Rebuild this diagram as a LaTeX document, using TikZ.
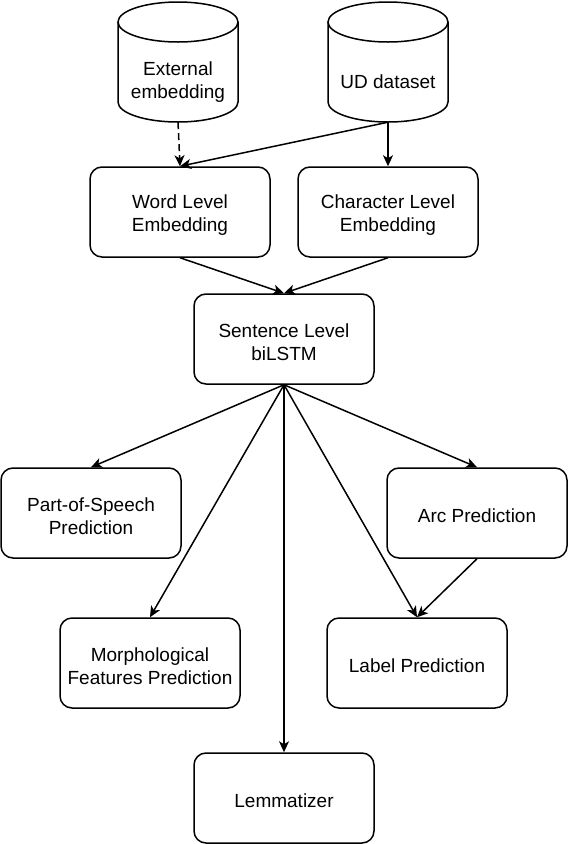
\documentclass[tikz,border=0pt]{standalone}
\usepackage{fontspec}
\setmainfont{Liberation Sans}
\usetikzlibrary{arrows.meta}
\newcommand\mytopstrut{\rule{0pt}{19.5pt}}
\begin{document}
\begin{tikzpicture}[x=1pt,y=1pt,
  txt/.style={align=center, font=\fontsize{19}{23}\selectfont, inner sep=0pt},
  box/.style={txt, draw, line width=1.5pt, rounded corners=12pt, minimum width=180pt, minimum height=90pt},
  dbtext/.style={txt, minimum width=120pt, minimum height=80pt},
  outline/.style={line width=1.5pt},
  conn/.style={line width=1.5pt, -{Stealth[length=11pt,width=10pt,inset=3pt]}},
]
\useasboundingbox (0,0) rectangle (570,-844);

% cylinders
\draw[outline] (118,-22) -- (118,-102) arc[start angle=180,end angle=360,x radius=60,y radius=20] -- (238,-22);
\draw[outline] (178,-22) ellipse[x radius=60,y radius=20];
\draw[outline] (328,-22) -- (328,-102) arc[start angle=180,end angle=360,x radius=60,y radius=20] -- (448,-22);
\draw[outline] (388,-22) ellipse[x radius=60,y radius=20];

\node[dbtext] (ext) at (178,-82) {External\\embedding};
\node[dbtext] (ud) at (388,-82) {UD dataset};

\node[box] (word) at (180,-212) {\mytopstrut Word Level\\Embedding};
\node[box] (char) at (388,-212) {\mytopstrut Character Level\\Embedding};
\node[box] (sent) at (284,-339) {\mytopstrut Sentence Level\\biLSTM};
\node[box] (pos) at (91,-513) {\mytopstrut Part-of-Speech\\Prediction};
\node[box] (arc) at (477,-513) {\mytopstrut Arc Prediction};
\node[box] (morph) at (150,-663) {\mytopstrut Morphological\\Features Prediction};
\node[box] (label) at (417,-663) {\mytopstrut Label Prediction};
\node[box] (lemma) at (284,-798) {\mytopstrut Lemmatizer};

\draw[conn, dash pattern=on 7pt off 4pt] (ext.south) -- (word.north);
\draw[conn] (ud.south) -- (word.north);
\draw[conn] (ud.south) -- (char.north);
\draw[conn] (word.south) -- (sent.north);
\draw[conn] (char.south) -- (sent.north);
\draw[conn] (sent.south) -- (pos.north);
\draw[conn] (sent.south) -- (morph.north);
\draw[conn] (sent.south) -- (lemma.north);
\draw[conn] (sent.south) -- (label.north);
\draw[conn] (sent.south) -- (arc.north);
\draw[conn] (arc.south) -- (label.north);
\end{tikzpicture}
\end{document}
